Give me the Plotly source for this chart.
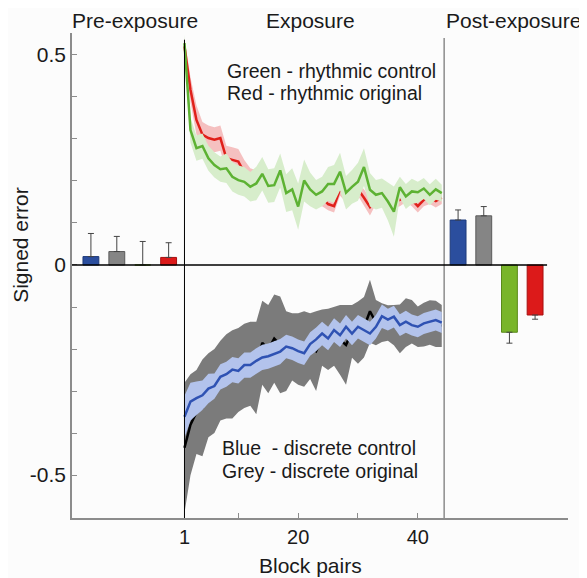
import numpy as np
import plotly.graph_objects as go

# ---------------- data ----------------
block_pairs = list(range(1, 45))

green_mean = [0.528, 0.321, 0.278, 0.283, 0.254, 0.238, 0.228, 0.230, 0.210, 0.202,
              0.198, 0.186, 0.194, 0.217, 0.188, 0.190, 0.225, 0.171, 0.180, 0.139,
              0.201, 0.180, 0.167, 0.175, 0.193, 0.193, 0.222, 0.172, 0.186, 0.198,
              0.233, 0.179, 0.167, 0.171, 0.151, 0.127, 0.185, 0.163, 0.175, 0.173,
              0.182, 0.167, 0.180, 0.171]
green_sd = [0.020, 0.030, 0.030, 0.030, 0.030, 0.030, 0.030, 0.035, 0.035, 0.035,
            0.035, 0.035, 0.040, 0.040, 0.040, 0.040, 0.040, 0.045, 0.050, 0.055,
            0.050, 0.040, 0.035, 0.035, 0.040, 0.045, 0.045, 0.040, 0.040, 0.045,
            0.045, 0.040, 0.035, 0.035, 0.045, 0.060, 0.025, 0.030, 0.030, 0.025,
            0.025, 0.025, 0.025, 0.020]

red_mean = [0.520, 0.417, 0.345, 0.310, 0.302, 0.298, 0.302, 0.254, 0.250, 0.246,
            0.220, 0.205, 0.200, 0.205, 0.190, 0.190, 0.205, 0.180, 0.175, 0.150,
            0.175, 0.170, 0.160, 0.160, 0.145, 0.140, 0.180, 0.165, 0.175, 0.180,
            0.160, 0.138, 0.160, 0.180, 0.160, 0.150, 0.155, 0.165, 0.155, 0.140,
            0.155, 0.160, 0.152, 0.160]
red_sd = [0.020, 0.030, 0.035, 0.030, 0.030, 0.030, 0.030, 0.030, 0.030, 0.030,
          0.030, 0.025, 0.025, 0.025, 0.020, 0.020, 0.020, 0.020, 0.020, 0.020,
          0.020, 0.020, 0.020, 0.020, 0.015, 0.015, 0.015, 0.015, 0.015, 0.015,
          0.020, 0.020, 0.015, 0.015, 0.015, 0.015, 0.015, 0.015, 0.015, 0.015,
          0.015, 0.015, 0.015, 0.015]

blue_mean = [-0.361, -0.325, -0.317, -0.310, -0.294, -0.288, -0.266, -0.260, -0.249, -0.252,
             -0.238, -0.238, -0.228, -0.220, -0.217, -0.212, -0.206, -0.194, -0.198, -0.205,
             -0.210, -0.188, -0.177, -0.163, -0.175, -0.155, -0.167, -0.147, -0.163, -0.147,
             -0.155, -0.163, -0.147, -0.122, -0.130, -0.123, -0.143, -0.135, -0.143, -0.147,
             -0.139, -0.135, -0.131, -0.137]
blue_sd = [0.050, 0.045, 0.040, 0.035, 0.035, 0.030, 0.030, 0.030, 0.030, 0.030,
           0.030, 0.030, 0.030, 0.030, 0.030, 0.030, 0.030, 0.028, 0.028, 0.028,
           0.028, 0.028, 0.028, 0.028, 0.028, 0.028, 0.028, 0.028, 0.028, 0.028,
           0.028, 0.028, 0.028, 0.028, 0.026, 0.026, 0.026, 0.026, 0.025, 0.025,
           0.025, 0.025, 0.025, 0.025]

grey_mean = [-0.435, -0.380, -0.350, -0.340, -0.310, -0.300, -0.275, -0.265, -0.260, -0.250,
             -0.240, -0.235, -0.245, -0.185, -0.200, -0.175, -0.190, -0.205, -0.195, -0.200,
             -0.200, -0.193, -0.205, -0.173, -0.177, -0.170, -0.178, -0.190, -0.158, -0.161,
             -0.148, -0.110, -0.137, -0.137, -0.138, -0.143, -0.152, -0.137, -0.135, -0.147,
             -0.142, -0.137, -0.140, -0.145]
grey_sd = [0.155, 0.120, 0.100, 0.115, 0.100, 0.100, 0.095, 0.100, 0.105, 0.100,
           0.100, 0.100, 0.110, 0.100, 0.105, 0.105, 0.115, 0.095, 0.080, 0.085,
           0.090, 0.078, 0.095, 0.067, 0.073, 0.070, 0.083, 0.095, 0.063, 0.074,
           0.072, 0.075, 0.054, 0.046, 0.042, 0.048, 0.058, 0.058, 0.052, 0.048,
           0.052, 0.053, 0.055, 0.050]

bar_colors = ["#2b4e9e", "#858585", "#79b52a", "#dc1a1a"]
bar_edges = ["#1d3a7a", "#5a5a5a", "#5a8a1a", "#a81010"]
pre_values = [0.020, 0.032, 0.0, 0.018]
pre_err = [0.055, 0.036, 0.056, 0.035]
post_values = [0.107, 0.117, -0.160, -0.119]
post_err = [0.024, 0.022, 0.026, 0.010]

y_tickvals = [-0.5, -0.4, -0.3, -0.2, -0.1, 0.0, 0.1, 0.2, 0.3, 0.4, 0.5]
y_ticktext = ["-0.5", "", "", "", "", "0", "", "", "", "", "0.5"]
x_tickvals = [1, 10, 20, 30, 40]
x_ticktext = ["1", "", "20", "", "40"]

section_titles = ["Pre-exposure", "Exposure", "Post-exposure"]
legend_rhythmic = ["Green - rhythmic control", "Red - rhythmic original"]
legend_discrete = ["Blue  - discrete control", "Grey - discrete original"]
x_title = "Block pairs"
y_title = "Signed error"

# ---------------- layout helpers ----------------
FONT = "Arial, Liberation Sans, sans-serif"
TXT = "#1a1a1a"
X_RANGE = [-17.8, 65.1]
Y_RANGE = [-0.602, 0.552]
SEP_X = 44.4
pre_x = [-14.64 + i * 4.33 for i in range(4)]
post_x = [46.73 + i * 4.29 for i in range(4)]
BAR_W = 2.65

x = np.array(block_pairs)


def band(mean, sd, color, name):
    m = np.array(mean)
    s = np.array(sd)
    return go.Scatter(x=np.concatenate([x, x[::-1]]),
                      y=np.concatenate([m + s, (m - s)[::-1]]),
                      fill="toself", fillcolor=color, line=dict(width=0),
                      mode="lines", hoverinfo="skip", showlegend=False, name=name)


def line(mean, color, name, w=2.5):
    return go.Scatter(x=x, y=mean, mode="lines", line=dict(color=color, width=w),
                      showlegend=False, name=name)


fig = go.Figure()

# rhythmic: red under green
fig.add_trace(band(red_mean, red_sd, "rgba(238,120,120,0.45)", "red band"))
fig.add_trace(line(red_mean, "#e0201a", "Red - rhythmic original"))
fig.add_trace(band(green_mean, green_sd, "#d7edcb", "green band"))
fig.add_trace(line(green_mean, "#5db233", "Green - rhythmic control"))

# discrete: grey under blue
fig.add_trace(band(grey_mean, grey_sd, "#7b7b7b", "grey band"))
fig.add_trace(line(grey_mean, "#000000", "Grey - discrete original"))
fig.add_trace(band(blue_mean, blue_sd, "#b3c3ec", "blue band"))
fig.add_trace(line(blue_mean, "#2f52b3", "Blue - discrete control"))

# pre-exposure bars
for i in range(4):
    fig.add_trace(go.Bar(
        x=[pre_x[i]], y=[pre_values[i]], width=BAR_W,
        marker=dict(color=bar_colors[i], line=dict(color=bar_edges[i], width=1)),
        error_y=dict(type="data", symmetric=False, array=[pre_err[i]], arrayminus=[0],
                     color="#444444", thickness=1, width=3),
        showlegend=False))

# post-exposure bars
for i in range(4):
    v = post_values[i]
    up = [post_err[i]] if v >= 0 else [0]
    dn = [0] if v >= 0 else [post_err[i]]
    fig.add_trace(go.Bar(
        x=[post_x[i]], y=[v], width=BAR_W,
        marker=dict(color=bar_colors[i], line=dict(color=bar_edges[i], width=1)),
        error_y=dict(type="data", symmetric=False, array=up, arrayminus=dn,
                     color="#444444", thickness=1, width=3),
        showlegend=False))

shapes = [
    dict(type="line", xref="x", yref="y", x0=1, x1=1, y0=Y_RANGE[0], y1=0.536,
         line=dict(color="#000000", width=1), layer="above"),
    dict(type="line", xref="x", yref="y", x0=SEP_X, x1=SEP_X, y0=Y_RANGE[0], y1=0.54,
         line=dict(color="#8c8c8c", width=1.5), layer="above"),
    dict(type="line", xref="x", yref="y", x0=X_RANGE[0], x1=61.6, y0=0, y1=0,
         line=dict(color="#000000", width=1.5), layer="above"),
]

annotations = []
for t, cx in zip(section_titles, [-7.3, 22.0, 56.0]):
    annotations.append(dict(text=t, x=cx, y=1.026, xref="x", yref="paper",
                            xanchor="center", yanchor="middle", showarrow=False,
                            font=dict(size=21, color=TXT, family=FONT)))
for t, yy in zip(legend_rhythmic, [0.462, 0.409]):
    annotations.append(dict(text=t, x=7.7, y=yy, xref="x", yref="y",
                            xanchor="left", yanchor="middle", showarrow=False,
                            font=dict(size=19.5, color=TXT, family=FONT)))
for t, yy in zip(legend_discrete, [-0.435, -0.49]):
    annotations.append(dict(text=t, x=6.9, y=yy, xref="x", yref="y",
                            xanchor="left", yanchor="middle", showarrow=False,
                            font=dict(size=19.5, color=TXT, family=FONT)))
annotations.append(dict(text=y_title, x=-0.103, y=0.563, xref="paper", yref="paper",
                        xanchor="center", yanchor="middle", textangle=-90, showarrow=False,
                        font=dict(size=21, color=TXT, family=FONT)))
annotations.append(dict(text=x_title, x=22.0, y=-0.098, xref="x", yref="paper",
                        xanchor="center", yanchor="middle", showarrow=False,
                        font=dict(size=21, color=TXT, family=FONT)))

# page body has an 8px margin: shrink figure accordingly so the plot area lands
# at the same spot as in the reference
fig.update_layout(
    width=579, height=570,
    margin=dict(l=64, r=19, t=25, b=60, autoexpand=False),
    paper_bgcolor="#fcfcfc", plot_bgcolor="#fcfcfc",
    barmode="overlay", showlegend=False,
    shapes=shapes, annotations=annotations,
    font=dict(family=FONT, size=19, color=TXT),
    xaxis=dict(range=X_RANGE, showgrid=False, zeroline=False, showline=True,
               automargin=False,
               linecolor="#8c8c8c", linewidth=1.5, ticks="inside", ticklen=5,
               tickcolor="#8c8c8c", tickwidth=1.2,
               tickvals=x_tickvals, ticktext=x_ticktext,
               tickfont=dict(size=20, family=FONT, color=TXT)),
    yaxis=dict(range=Y_RANGE, showgrid=False, zeroline=False, showline=True,
               automargin=False,
               linecolor="#8c8c8c", linewidth=1.5, ticks="inside", ticklen=5,
               tickcolor="#8c8c8c", tickwidth=1.2,
               tickvals=y_tickvals, ticktext=y_ticktext,
               tickfont=dict(size=21, family=FONT, color=TXT)),
)

fig.write_html("out.html")
